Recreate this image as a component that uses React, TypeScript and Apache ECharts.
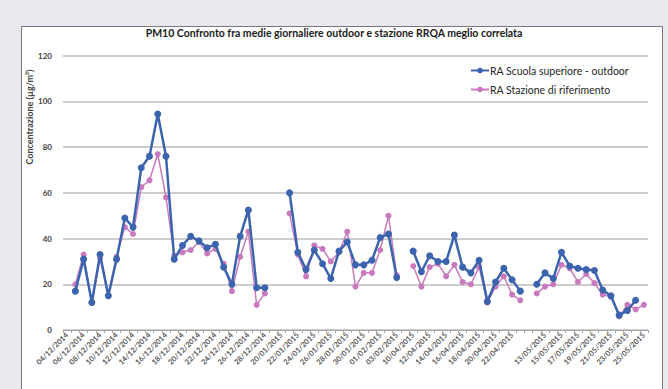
import React, { useEffect, useRef } from "react";
import * as echarts from "echarts";

const titleText = "PM10 Confronto fra medie giornaliere outdoor e stazione RRQA meglio correlata";
const yAxisTitle = "Concentrazione (µg/m³)";
const seriesNames = ["RA Scuola superiore - outdoor", "RA Stazione di riferimento"];

const categories = [
  "04/12/2014", "05/12/2014", "06/12/2014", "07/12/2014", "08/12/2014", "09/12/2014", "10/12/2014",
  "11/12/2014", "12/12/2014", "13/12/2014", "14/12/2014", "15/12/2014", "16/12/2014", "17/12/2014",
  "18/12/2014", "19/12/2014", "20/12/2014", "21/12/2014", "22/12/2014", "23/12/2014", "24/12/2014",
  "25/12/2014", "26/12/2014", "27/12/2014", "28/12/2014",
  "19/01/2015", "20/01/2015", "21/01/2015", "22/01/2015", "23/01/2015", "24/01/2015", "25/01/2015",
  "26/01/2015", "27/01/2015", "28/01/2015", "29/01/2015", "30/01/2015", "31/01/2015", "01/02/2015",
  "02/02/2015", "03/02/2015",
  "09/04/2015", "10/04/2015", "11/04/2015", "12/04/2015", "13/04/2015", "14/04/2015", "15/04/2015",
  "16/04/2015", "17/04/2015", "18/04/2015", "19/04/2015", "20/04/2015", "21/04/2015", "22/04/2015",
  "23/04/2015",
  "",
  "12/05/2015", "13/05/2015", "14/05/2015", "15/05/2015", "16/05/2015", "17/05/2015", "18/05/2015",
  "19/05/2015", "20/05/2015", "21/05/2015", "22/05/2015", "23/05/2015", "24/05/2015", "25/05/2015",
];

const scuolaOutdoor = [
  null, 17, 31, 12, 33, 15, 31, 49, 45, 71, 76, 94.5, 76, 31, 37, 41, 39, 36, 37.5, 27.5, 20, 41, 52.5, 18.5, 18.5,
  null, null, 60, 34, 26.5, 35, 29, 22.5, 34.5, 38.5, 28.5, 28.5, 30.5, 40.5, 42, 23,
  null, 34.5, 25.5, 32.5, 30, 30, 41.5, 27.5, 25, 30.5, 12.5, 21, 27, 22, 17,
  null, 20, 25, 22.5, 34, 28, 27, 26.5, 26, 17.5, 15, 6.5, 8.5, 13, null,
];

const stazioneRiferimento = [
  null, 20, 33, 12, 31.5, 15, 32, 45, 42, 62.5, 65.5, 77, 58, 32.5, 34, 35, 38.5, 33.5, 35.5, 29, 17, 32, 43, 11, 16,
  null, null, 51, 33, 23.5, 37, 35.5, 30, 34, 43, 19, 25, 25, 35, 50, 24,
  null, 28, 19, 27.5, 29, 23.5, 28.5, 21, 20, 27.5, 12, 19, 23.5, 15.5, 13,
  null, 16, 19, 20, 28.5, 27, 21, 24.5, 20.5, 15.5, 14.5, 6, 11, 9, 11,
];

const BLUE = "#3c64ae";
const PINK = "#c979bd";

export default function App() {
  const ref = useRef<HTMLDivElement>(null);
  useEffect(() => {
    if (!ref.current) return;
    const chart = echarts.init(ref.current, null, { renderer: "svg" });
    chart.setOption({
      animation: false,
      backgroundColor: "#e9e8ef",
      textStyle: { fontFamily: "Lato" },
      graphic: [
        {
          type: "rect",
          z: -10,
          shape: { x: 21.5, y: 26.5, width: 641, height: 380 },
          style: { fill: "#ffffff", stroke: "#77767f", lineWidth: 1 },
        },
        {
          type: "text",
          x: 29,
          y: 117,
          rotation: Math.PI / 2,
          style: {
            text: yAxisTitle,
            fill: "#404040",
            font: "bold 9px Lato",
            align: "center",
            verticalAlign: "middle",
          },
        },
      ],
      title: {
        text: titleText,
        left: "center",
        top: 22,
        textStyle: { fontFamily: "Lato", fontWeight: "bold", fontSize: 10.5, color: "#1a1a1a" },
      },
      legend: {
        right: 34,
        top: 60,
        orient: "vertical",
        itemGap: 8,
        itemWidth: 18,
        itemHeight: 7,
        textStyle: { fontFamily: "Lato", fontSize: 10.5, color: "#262626", padding: [0, 0, 0, -4] },
        data: seriesNames,
      },
      grid: { left: 63, right: 20, top: 55.7, bottom: 59 },
      xAxis: {
        type: "category",
        data: categories,
        boundaryGap: true,
        axisLine: { lineStyle: { color: "#a6a6a6", width: 1 } },
        axisTick: { show: true, interval: 0, length: 3, lineStyle: { color: "#a6a6a6" } },
        axisLabel: {
          interval: 1,
          rotate: 45,
          fontSize: 7.5,
          fontWeight: "bold",
          color: "#595959",
          fontFamily: "Lato",
          margin: 4,
        },
      },
      yAxis: {
        type: "value",
        min: 0,
        max: 120,
        interval: 20,
        axisLine: { show: false },
        axisTick: { show: false },
        axisLabel: { fontSize: 8, fontWeight: "bold", color: "#404040", fontFamily: "Lato", margin: 11 },
        splitLine: { lineStyle: { color: "#bcbcbc", width: 1.5 } },
      },
      series: [
        {
          name: seriesNames[0],
          type: "line",
          data: scuolaOutdoor,
          z: 3,
          symbol: "circle",
          symbolSize: 7,
          showSymbol: true,
          showAllSymbol: true,
          lineStyle: { color: BLUE, width: 2.5 },
          itemStyle: { color: BLUE },
          connectNulls: false,
        },
        {
          name: seriesNames[1],
          type: "line",
          data: stazioneRiferimento,
          z: 2,
          symbol: "circle",
          symbolSize: 6,
          showSymbol: true,
          showAllSymbol: true,
          lineStyle: { color: PINK, width: 1.5 },
          itemStyle: { color: PINK },
          connectNulls: false,
        },
      ],
    });
    return () => chart.dispose();
  }, []);
  return (
    <div
      ref={ref}
      style={{ position: "fixed", left: 0, top: 0, width: 668, height: 389 }}
    />
  );
}
